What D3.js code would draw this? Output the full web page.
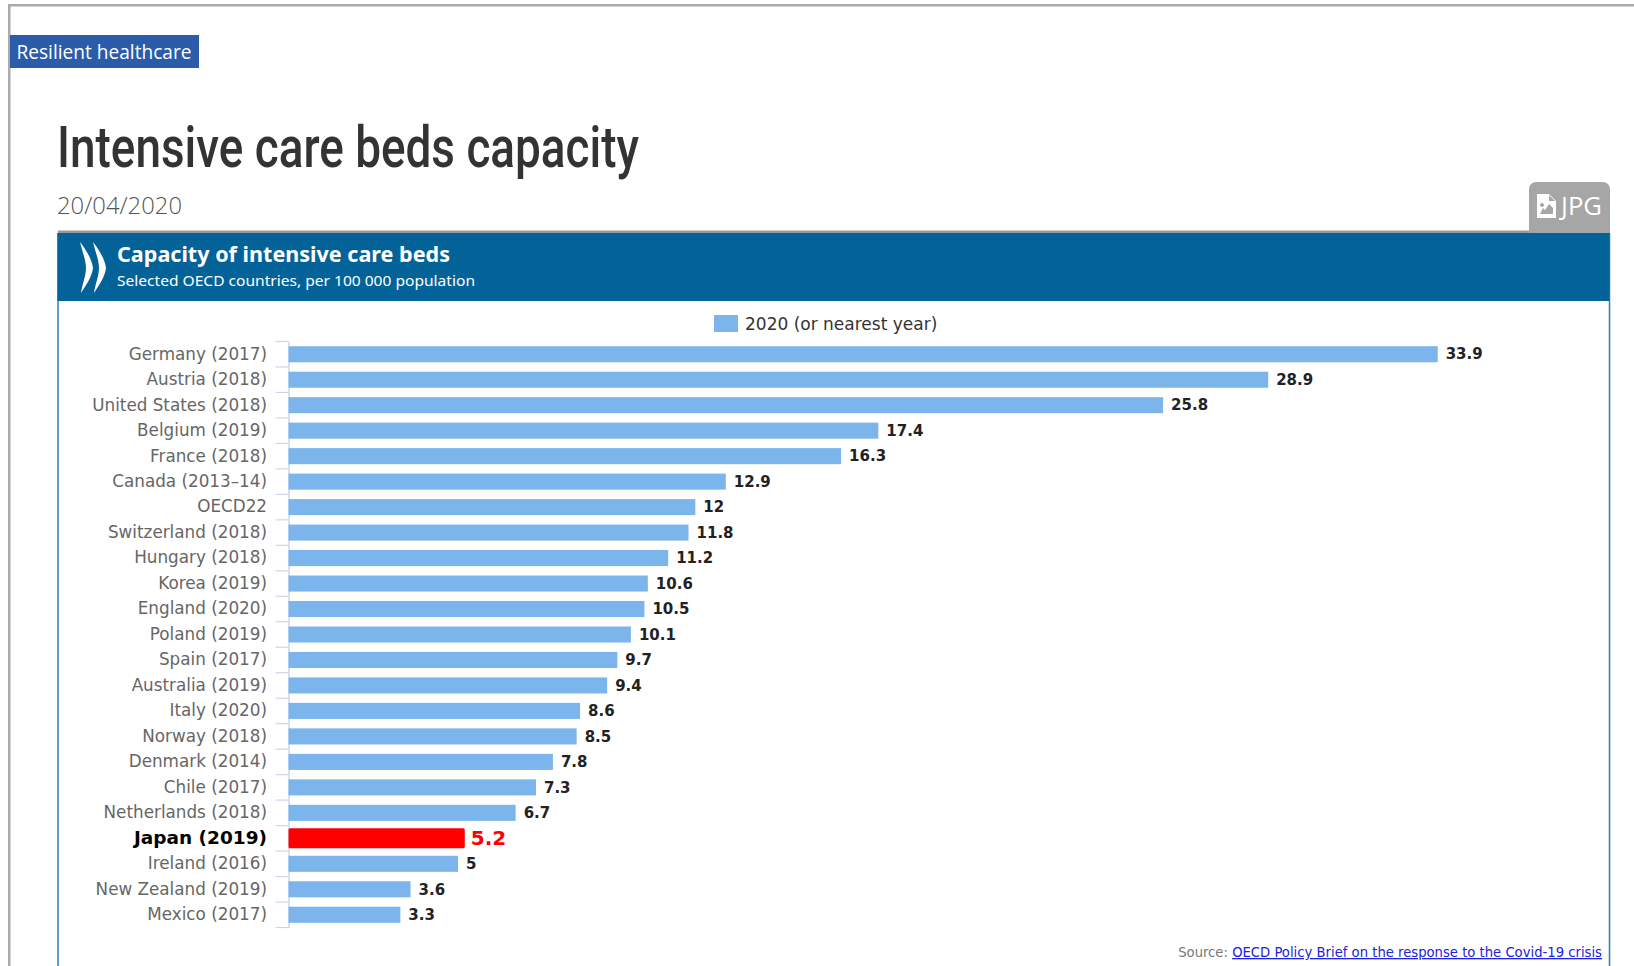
<!DOCTYPE html>
<html>
<head>
<meta charset="utf-8">
<title>Intensive care beds capacity</title>
<script src="https://cdn.jsdelivr.net/npm/d3@7/dist/d3.min.js"></script>
<style>
html,body{margin:0;padding:0;background:#fff;overflow:hidden}
svg{display:block}
text{font-family:"DejaVu Sans",sans-serif}
</style>
</head>
<body>
<svg id="page" width="1634" height="966"></svg>
<script>
// Intensive care beds per 100 000 population
const countries = ["Germany (2017)","Austria (2018)","United States (2018)","Belgium (2019)","France (2018)","Canada (2013–14)","OECD22","Switzerland (2018)","Hungary (2018)","Korea (2019)","England (2020)","Poland (2019)","Spain (2017)","Australia (2019)","Italy (2020)","Norway (2018)","Denmark (2014)","Chile (2017)","Netherlands (2018)","Japan (2019)","Ireland (2016)","New Zealand (2019)","Mexico (2017)"];
const beds = [33.9,28.9,25.8,17.4,16.3,12.9,12,11.8,11.2,10.6,10.5,10.1,9.7,9.4,8.6,8.5,7.8,7.3,6.7,5.2,5,3.6,3.3];
const highlighted = "Japan (2019)";
const seriesName = "2020 (or nearest year)";

const svg = d3.select("#page");

// Page frame
svg.append("rect").attr("x",8).attr("y",4).attr("width",1626).attr("height",2.5).attr("fill","#aaaaaa");
svg.append("rect").attr("x",8).attr("y",4).attr("width",2.5).attr("height",962).attr("fill","#aaaaaa");

// Topic badge
svg.append("rect").attr("x",10).attr("y",35).attr("width",189).attr("height",33).attr("fill","#2a5caa");
svg.append("text").attr("x",16.5).attr("y",58.5).attr("fill","#fff")
  .style("font-family","'Open Sans'").style("font-size","20px")
  .attr("textLength",175).attr("lengthAdjust","spacingAndGlyphs").text("Resilient healthcare");

// Headline and date
svg.append("text").attr("x",57).attr("y",166.5).attr("fill","#333")
  .style("font-family","'Roboto'").style("font-weight",500).style("font-size","58px")
  .attr("textLength",582).attr("lengthAdjust","spacingAndGlyphs").text("Intensive care beds capacity");
svg.append("text").attr("x",57).attr("y",214).attr("fill","#555")
  .style("font-family","'Open Sans'").style("font-weight",300).style("font-size","24px")
  .attr("textLength",125).attr("lengthAdjust","spacingAndGlyphs").text("20/04/2020");

// JPG download tab
svg.append("path").attr("fill","#a6a6a6")
  .attr("d","M1529 233V189a7 7 0 0 1 7-7H1603a7 7 0 0 1 7 7V233Z");
svg.append("path").attr("fill","#fff").attr("fill-rule","evenodd")
  .attr("d","M1537 194H1549L1556 201V218H1537ZM1549 195V201H1555ZM1540 214H1553V208L1549 204L1545 210L1543 208ZM1542 203a2 2 0 1 0 .01 0Z");
svg.append("text").attr("x",1561).attr("y",215).attr("fill","#fff")
  .style("font-family","'Open Sans'").style("font-size","25px")
  .attr("textLength",41).attr("lengthAdjust","spacingAndGlyphs").text("JPG");

// Chart panel: rule, outline and header band
svg.append("rect").attr("x",58).attr("y",230.5).attr("width",1471).attr("height",3).attr("fill","#9a9a9a");
svg.append("path").attr("fill","none").attr("stroke","#2f7fb5").attr("stroke-width",1.5)
  .attr("d","M58 233V966M1609.5 233V966");
svg.append("rect").attr("x",57.5).attr("y",233).attr("width",1552).attr("height",68).attr("fill","#036399");

// Twin chevron mark in the header
[80,93].forEach(cx => {
  svg.append("path").attr("fill","#fff")
    .attr("d",`M${cx} 242C${cx+6} 250 ${cx+12} 259 ${cx+13} 268C${cx+12} 277 ${cx+6} 285 ${cx+1} 293C${cx+2} 285 ${cx+6} 276 ${cx+6} 268C${cx+6} 260 ${cx+2} 251 ${cx} 242Z`);
});

svg.append("text").attr("x",117).attr("y",262).attr("fill","#fff")
  .style("font-family","'Noto Sans'").style("font-weight",700).style("font-size","21px")
  .attr("textLength",333).attr("lengthAdjust","spacingAndGlyphs").text("Capacity of intensive care beds");
svg.append("text").attr("x",117).attr("y",286).attr("fill","#fff")
  .style("font-family","'Noto Sans'").style("font-size","15px")
  .attr("textLength",358).attr("lengthAdjust","spacingAndGlyphs").text("Selected OECD countries, per 100 000 population");

// Legend
svg.append("rect").attr("x",714).attr("y",315).attr("width",24).attr("height",17).attr("fill","#7cb5ec");
svg.append("text").attr("x",745).attr("y",330).attr("fill","#333").style("font-size","17px").text(seriesName);

// Scales
const x = d3.scaleLinear().domain([0,33.9]).range([288.5,1437.7]);
const y = d3.scaleBand().domain(countries).range([341.5,927.5]).paddingInner(0.37).paddingOuter(0.185);

// Category axis: labels from d3.axisLeft, tick marks on the band edges
const axisColor = "#ccd6eb";
const axis = svg.append("g").attr("transform",`translate(${x(0)},0)`)
  .call(d3.axisLeft(y).tickSize(0).tickPadding(21.5));
axis.select(".domain").attr("stroke",axisColor).attr("stroke-width",1.5);
axis.selectAll(".tick text")
  .attr("fill",d => d === highlighted ? "#000" : "#666")
  .style("font-family","'DejaVu Sans'")
  .style("font-size",d => d === highlighted ? "18.5px" : "16.8px")
  .style("font-weight",d => d === highlighted ? 700 : 400)
  .attr("dy","0.32em");

const edges = countries.map(c => y(c) - y.step()*y.paddingInner()/2).concat([y.range()[1]]);
svg.append("g").selectAll("line").data(edges).join("line")
  .attr("x1",x(0)-13).attr("x2",x(0)).attr("y1",d => d).attr("y2",d => d)
  .attr("stroke",axisColor).attr("stroke-width",1.2);

// Bars and their value labels
const rows = countries.map((c,i) => ({c, v:beds[i], hot:c === highlighted}));
const barH = d => d.hot ? y.bandwidth()*1.25 : y.bandwidth();
svg.append("g").selectAll("rect").data(rows).join("rect")
  .attr("x",x(0)).attr("width",d => x(d.v)-x(0))
  .attr("y",d => y(d.c)+y.bandwidth()/2-barH(d)/2).attr("height",barH)
  .attr("rx",d => d.hot ? 1.5 : 0)
  .attr("fill",d => d.hot ? "#ff0000" : "#7cb5ec");
svg.append("g").selectAll("text").data(rows).join("text")
  .attr("x",d => x(d.v)+(d.hot ? 6 : 8))
  .attr("y",d => y(d.c)+y.bandwidth()/2)
  .attr("dy","0.35em")
  .attr("fill",d => d.hot ? "#ff0000" : "#222")
  .style("font-size",d => d.hot ? "20px" : "15px")
  .style("font-weight",d => d.hot ? 700 : 600)
  .text(d => d.v);

// Source line
const src = svg.append("text").attr("x",1602).attr("y",957).attr("text-anchor","end")
  .style("font-family","'DejaVu Sans'").style("font-size","13.2px");
src.append("tspan").attr("fill","#777").text("Source: ");
src.append("tspan").attr("fill","#2222dd").attr("text-decoration","underline")
  .text("OECD Policy Brief on the response to the Covid-19 crisis");
</script>
</body>
</html>
